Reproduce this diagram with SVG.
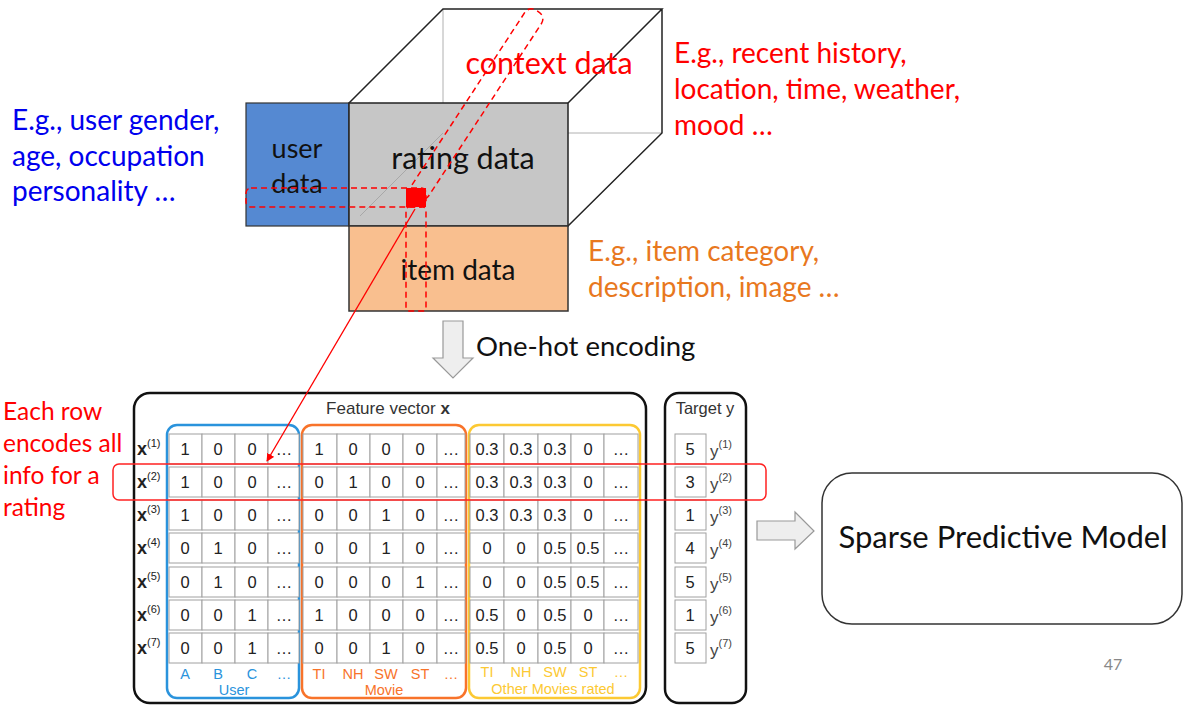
<svg xmlns="http://www.w3.org/2000/svg" width="1187" height="710" viewBox="0 0 1187 710">
<style>
.sl{font-family:Lato,"Open Sans","Liberation Sans",sans-serif}
.tb{font-family:"Liberation Sans",Arial,sans-serif}
.cell{fill:#fff;stroke:#a0a0a0;stroke-width:1}
.num{font-size:16.5px;fill:#222;text-anchor:middle;dominant-baseline:central}
.lbl{font-size:18px;font-weight:bold;fill:#222;dominant-baseline:central}
.sup{font-size:11px;font-weight:normal}
.dash{fill:none;stroke:#f00;stroke-width:1.5;stroke-dasharray:6 4}
</style>
<defs>
<marker id="ah" viewBox="0 0 10 10" refX="9" refY="5" markerWidth="8" markerHeight="8" orient="auto" markerUnits="userSpaceOnUse"><path d="M0,0 L10,5 L0,10 z" fill="#f00"/></marker>
</defs>
<rect width="1187" height="710" fill="#fff"/>

<g id="cube">
<line x1="443" y1="9" x2="443" y2="133" stroke="#b0b0b0" stroke-width="1"/>
<line x1="443" y1="133" x2="662" y2="133" stroke="#b0b0b0" stroke-width="1"/>
<path d="M349,103 L443,9 L662,9 L568,103 M662,9 L662,133 L568,226" fill="none" stroke="#222" stroke-width="1.5"/>
</g>
<g id="user-data">
<rect x="246" y="103" width="103" height="123" fill="#5589D2" stroke="#333" stroke-width="1.2"/>
<text class="sl" x="297" y="158" font-size="27" text-anchor="middle" fill="#111">user</text>
<text class="sl" x="297" y="193" font-size="27" text-anchor="middle" fill="#111">data</text>
</g>
<g id="rating-data">
<rect x="349" y="103" width="219" height="123" fill="#C6C6C6" stroke="#222" stroke-width="1.5"/>
<line x1="443" y1="133" x2="360" y2="216" stroke="#a8a8a8" stroke-width="1"/>
<text class="sl" x="463" y="169" font-size="30.5" text-anchor="middle" fill="#111">rating data</text>
</g>
<g id="item-data">
<rect x="349" y="226" width="219" height="85" fill="#F9BF8F" stroke="#333" stroke-width="1.5"/>
<text class="sl" x="458" y="280" font-size="28" text-anchor="middle" fill="#111">item data</text>
</g>
<g id="context-data">
<text class="sl" x="549" y="74" font-size="30.5" text-anchor="middle" fill="#f00">context data</text>
</g>
<g id="selection">
<rect class="dash" x="246" y="188" width="180" height="19" rx="5"/>
<rect class="dash" x="406" y="207" width="20" height="104" rx="3"/>
<rect class="dash" x="0" y="-10" width="222" height="20" rx="8" transform="translate(416,197) rotate(-56.8)"/>
<rect x="406" y="188" width="20" height="19" fill="#f00"/>
</g>

<g id="notes" class="sl" font-size="28">
<text x="674" y="63" fill="#f00">E.g., recent history,</text>
<text x="674" y="99" fill="#f00">location, time, weather,</text>
<text x="674" y="135" fill="#f00">mood …</text>
<text x="12" y="130" fill="#0000EE">E.g., user gender,</text>
<text x="12" y="166" fill="#0000EE">age, occupation</text>
<text x="12" y="201" fill="#0000EE">personality …</text>
<text x="588" y="261" fill="#E8781E">E.g., item category,</text>
<text x="588" y="297" fill="#E8781E">description, image …</text>
<text x="476" y="356" font-size="27.5" fill="#111">One-hot encoding</text>
<text x="3" y="420" font-size="24.5" fill="#f00">Each row</text>
<text x="3" y="452" font-size="24.5" fill="#f00">encodes all</text>
<text x="3" y="484" font-size="24.5" fill="#f00">info for a</text>
<text x="3" y="516" font-size="24.5" fill="#f00">rating</text>
</g>

<g id="encode-arrow">
<path d="M443,321 L463,321 L463,358 L473,358 L453,378 L433,358 L443,358 Z" fill="#EEEEEE" stroke="#999" stroke-width="1.2"/>
</g>

<g id="feature-vector" class="tb">
<rect x="134" y="393" width="512" height="310" rx="16" fill="none" stroke="#111" stroke-width="2.5"/>
<text x="388" y="414" font-size="17" text-anchor="middle" fill="#333">Feature vector <tspan font-weight="bold">x</tspan></text>
<rect x="167" y="425" width="132" height="273" rx="10" fill="none" stroke="#2A93DC" stroke-width="2.5"/>
<rect x="302" y="425" width="164" height="273" rx="10" fill="none" stroke="#F8732A" stroke-width="2.5"/>
<rect x="469" y="425" width="171" height="273" rx="10" fill="none" stroke="#FCC933" stroke-width="2.5"/>
</g>

<g id="rows" class="tb">
<g id="row1" transform="translate(0,449)">
<text class="lbl" x="137" y="0">x<tspan class="sup" dy="-6">(1)</tspan></text>
<rect class="cell" x="169" y="-15" width="33" height="30"/><rect class="cell" x="202" y="-15" width="33" height="30"/><rect class="cell" x="235" y="-15" width="33" height="30"/><rect class="cell" x="268" y="-15" width="31" height="30"/>
<rect class="cell" x="303" y="-15" width="34" height="30"/><rect class="cell" x="337" y="-15" width="33" height="30"/><rect class="cell" x="370" y="-15" width="33" height="30"/><rect class="cell" x="403" y="-15" width="34" height="30"/><rect class="cell" x="437" y="-15" width="28" height="30"/>
<rect class="cell" x="470" y="-15" width="34" height="30"/><rect class="cell" x="504" y="-15" width="34" height="30"/><rect class="cell" x="538" y="-15" width="33" height="30"/><rect class="cell" x="571" y="-15" width="33" height="30"/><rect class="cell" x="604" y="-15" width="34" height="30"/>
<text class="num" x="185">1</text><text class="num" x="218">0</text><text class="num" x="252">0</text><text class="num" x="284">…</text>
<text class="num" x="319">1</text><text class="num" x="353">0</text><text class="num" x="386">0</text><text class="num" x="420">0</text><text class="num" x="451">…</text>
<text class="num" x="487">0.3</text><text class="num" x="521">0.3</text><text class="num" x="555">0.3</text><text class="num" x="588">0</text><text class="num" x="621">…</text>
</g>
<g id="row2" transform="translate(0,482)">
<text class="lbl" x="137" y="0">x<tspan class="sup" dy="-6">(2)</tspan></text>
<rect class="cell" x="169" y="-15" width="33" height="30"/><rect class="cell" x="202" y="-15" width="33" height="30"/><rect class="cell" x="235" y="-15" width="33" height="30"/><rect class="cell" x="268" y="-15" width="31" height="30"/>
<rect class="cell" x="303" y="-15" width="34" height="30"/><rect class="cell" x="337" y="-15" width="33" height="30"/><rect class="cell" x="370" y="-15" width="33" height="30"/><rect class="cell" x="403" y="-15" width="34" height="30"/><rect class="cell" x="437" y="-15" width="28" height="30"/>
<rect class="cell" x="470" y="-15" width="34" height="30"/><rect class="cell" x="504" y="-15" width="34" height="30"/><rect class="cell" x="538" y="-15" width="33" height="30"/><rect class="cell" x="571" y="-15" width="33" height="30"/><rect class="cell" x="604" y="-15" width="34" height="30"/>
<text class="num" x="185">1</text><text class="num" x="218">0</text><text class="num" x="252">0</text><text class="num" x="284">…</text>
<text class="num" x="319">0</text><text class="num" x="353">1</text><text class="num" x="386">0</text><text class="num" x="420">0</text><text class="num" x="451">…</text>
<text class="num" x="487">0.3</text><text class="num" x="521">0.3</text><text class="num" x="555">0.3</text><text class="num" x="588">0</text><text class="num" x="621">…</text>
</g>
<g id="row3" transform="translate(0,515)">
<text class="lbl" x="137" y="0">x<tspan class="sup" dy="-6">(3)</tspan></text>
<rect class="cell" x="169" y="-15" width="33" height="30"/><rect class="cell" x="202" y="-15" width="33" height="30"/><rect class="cell" x="235" y="-15" width="33" height="30"/><rect class="cell" x="268" y="-15" width="31" height="30"/>
<rect class="cell" x="303" y="-15" width="34" height="30"/><rect class="cell" x="337" y="-15" width="33" height="30"/><rect class="cell" x="370" y="-15" width="33" height="30"/><rect class="cell" x="403" y="-15" width="34" height="30"/><rect class="cell" x="437" y="-15" width="28" height="30"/>
<rect class="cell" x="470" y="-15" width="34" height="30"/><rect class="cell" x="504" y="-15" width="34" height="30"/><rect class="cell" x="538" y="-15" width="33" height="30"/><rect class="cell" x="571" y="-15" width="33" height="30"/><rect class="cell" x="604" y="-15" width="34" height="30"/>
<text class="num" x="185">1</text><text class="num" x="218">0</text><text class="num" x="252">0</text><text class="num" x="284">…</text>
<text class="num" x="319">0</text><text class="num" x="353">0</text><text class="num" x="386">1</text><text class="num" x="420">0</text><text class="num" x="451">…</text>
<text class="num" x="487">0.3</text><text class="num" x="521">0.3</text><text class="num" x="555">0.3</text><text class="num" x="588">0</text><text class="num" x="621">…</text>
</g>
<g id="row4" transform="translate(0,548)">
<text class="lbl" x="137" y="0">x<tspan class="sup" dy="-6">(4)</tspan></text>
<rect class="cell" x="169" y="-15" width="33" height="30"/><rect class="cell" x="202" y="-15" width="33" height="30"/><rect class="cell" x="235" y="-15" width="33" height="30"/><rect class="cell" x="268" y="-15" width="31" height="30"/>
<rect class="cell" x="303" y="-15" width="34" height="30"/><rect class="cell" x="337" y="-15" width="33" height="30"/><rect class="cell" x="370" y="-15" width="33" height="30"/><rect class="cell" x="403" y="-15" width="34" height="30"/><rect class="cell" x="437" y="-15" width="28" height="30"/>
<rect class="cell" x="470" y="-15" width="34" height="30"/><rect class="cell" x="504" y="-15" width="34" height="30"/><rect class="cell" x="538" y="-15" width="33" height="30"/><rect class="cell" x="571" y="-15" width="33" height="30"/><rect class="cell" x="604" y="-15" width="34" height="30"/>
<text class="num" x="185">0</text><text class="num" x="218">1</text><text class="num" x="252">0</text><text class="num" x="284">…</text>
<text class="num" x="319">0</text><text class="num" x="353">0</text><text class="num" x="386">1</text><text class="num" x="420">0</text><text class="num" x="451">…</text>
<text class="num" x="487">0</text><text class="num" x="521">0</text><text class="num" x="555">0.5</text><text class="num" x="588">0.5</text><text class="num" x="621">…</text>
</g>
<g id="row5" transform="translate(0,582)">
<text class="lbl" x="137" y="0">x<tspan class="sup" dy="-6">(5)</tspan></text>
<rect class="cell" x="169" y="-15" width="33" height="30"/><rect class="cell" x="202" y="-15" width="33" height="30"/><rect class="cell" x="235" y="-15" width="33" height="30"/><rect class="cell" x="268" y="-15" width="31" height="30"/>
<rect class="cell" x="303" y="-15" width="34" height="30"/><rect class="cell" x="337" y="-15" width="33" height="30"/><rect class="cell" x="370" y="-15" width="33" height="30"/><rect class="cell" x="403" y="-15" width="34" height="30"/><rect class="cell" x="437" y="-15" width="28" height="30"/>
<rect class="cell" x="470" y="-15" width="34" height="30"/><rect class="cell" x="504" y="-15" width="34" height="30"/><rect class="cell" x="538" y="-15" width="33" height="30"/><rect class="cell" x="571" y="-15" width="33" height="30"/><rect class="cell" x="604" y="-15" width="34" height="30"/>
<text class="num" x="185">0</text><text class="num" x="218">1</text><text class="num" x="252">0</text><text class="num" x="284">…</text>
<text class="num" x="319">0</text><text class="num" x="353">0</text><text class="num" x="386">0</text><text class="num" x="420">1</text><text class="num" x="451">…</text>
<text class="num" x="487">0</text><text class="num" x="521">0</text><text class="num" x="555">0.5</text><text class="num" x="588">0.5</text><text class="num" x="621">…</text>
</g>
<g id="row6" transform="translate(0,615)">
<text class="lbl" x="137" y="0">x<tspan class="sup" dy="-6">(6)</tspan></text>
<rect class="cell" x="169" y="-15" width="33" height="30"/><rect class="cell" x="202" y="-15" width="33" height="30"/><rect class="cell" x="235" y="-15" width="33" height="30"/><rect class="cell" x="268" y="-15" width="31" height="30"/>
<rect class="cell" x="303" y="-15" width="34" height="30"/><rect class="cell" x="337" y="-15" width="33" height="30"/><rect class="cell" x="370" y="-15" width="33" height="30"/><rect class="cell" x="403" y="-15" width="34" height="30"/><rect class="cell" x="437" y="-15" width="28" height="30"/>
<rect class="cell" x="470" y="-15" width="34" height="30"/><rect class="cell" x="504" y="-15" width="34" height="30"/><rect class="cell" x="538" y="-15" width="33" height="30"/><rect class="cell" x="571" y="-15" width="33" height="30"/><rect class="cell" x="604" y="-15" width="34" height="30"/>
<text class="num" x="185">0</text><text class="num" x="218">0</text><text class="num" x="252">1</text><text class="num" x="284">…</text>
<text class="num" x="319">1</text><text class="num" x="353">0</text><text class="num" x="386">0</text><text class="num" x="420">0</text><text class="num" x="451">…</text>
<text class="num" x="487">0.5</text><text class="num" x="521">0</text><text class="num" x="555">0.5</text><text class="num" x="588">0</text><text class="num" x="621">…</text>
</g>
<g id="row7" transform="translate(0,648)">
<text class="lbl" x="137" y="0">x<tspan class="sup" dy="-6">(7)</tspan></text>
<rect class="cell" x="169" y="-15" width="33" height="30"/><rect class="cell" x="202" y="-15" width="33" height="30"/><rect class="cell" x="235" y="-15" width="33" height="30"/><rect class="cell" x="268" y="-15" width="31" height="30"/>
<rect class="cell" x="303" y="-15" width="34" height="30"/><rect class="cell" x="337" y="-15" width="33" height="30"/><rect class="cell" x="370" y="-15" width="33" height="30"/><rect class="cell" x="403" y="-15" width="34" height="30"/><rect class="cell" x="437" y="-15" width="28" height="30"/>
<rect class="cell" x="470" y="-15" width="34" height="30"/><rect class="cell" x="504" y="-15" width="34" height="30"/><rect class="cell" x="538" y="-15" width="33" height="30"/><rect class="cell" x="571" y="-15" width="33" height="30"/><rect class="cell" x="604" y="-15" width="34" height="30"/>
<text class="num" x="185">0</text><text class="num" x="218">0</text><text class="num" x="252">1</text><text class="num" x="284">…</text>
<text class="num" x="319">0</text><text class="num" x="353">0</text><text class="num" x="386">1</text><text class="num" x="420">0</text><text class="num" x="451">…</text>
<text class="num" x="487">0.5</text><text class="num" x="521">0</text><text class="num" x="555">0.5</text><text class="num" x="588">0</text><text class="num" x="621">…</text>
</g>
</g>

<g id="column-labels" class="tb" font-size="14.5" text-anchor="middle">
<g fill="#2A93DC"><text x="185" y="679">A</text><text x="218" y="679">B</text><text x="252" y="679">C</text><text x="284" y="679">…</text><text x="234" y="695">User</text></g>
<g fill="#F8732A"><text x="319" y="679">TI</text><text x="353" y="679">NH</text><text x="386" y="679">SW</text><text x="420" y="679">ST</text><text x="451" y="679">…</text><text x="384" y="695">Movie</text></g>
<g fill="#FCC933"><text x="487" y="677">TI</text><text x="521" y="677">NH</text><text x="555" y="677">SW</text><text x="588" y="677">ST</text><text x="621" y="677">…</text><text x="553" y="694">Other Movies rated</text></g>
</g>

<g id="target" class="tb">
<rect x="665" y="393" width="81" height="310" rx="14" fill="none" stroke="#111" stroke-width="2.5"/>
<text x="705" y="414" font-size="16.5" text-anchor="middle" fill="#333">Target y</text>
<g fill="#fff" stroke="#a0a0a0" stroke-width="1">
<rect x="675" y="434" width="31" height="30"/><rect x="675" y="467" width="31" height="30"/><rect x="675" y="500" width="31" height="30"/><rect x="675" y="533" width="31" height="30"/><rect x="675" y="567" width="31" height="30"/><rect x="675" y="600" width="31" height="30"/><rect x="675" y="633" width="31" height="30"/>
</g>
<text class="num" x="690" y="449">5</text><text class="num" x="690" y="482">3</text><text class="num" x="690" y="515">1</text><text class="num" x="690" y="548">4</text><text class="num" x="690" y="582">5</text><text class="num" x="690" y="615">1</text><text class="num" x="690" y="648">5</text>
<g font-size="17" fill="#444" dominant-baseline="central">
<text x="710" y="451">y<tspan font-size="11" dy="-7">(1)</tspan></text>
<text x="710" y="484">y<tspan font-size="11" dy="-7">(2)</tspan></text>
<text x="710" y="517">y<tspan font-size="11" dy="-7">(3)</tspan></text>
<text x="710" y="550">y<tspan font-size="11" dy="-7">(4)</tspan></text>
<text x="710" y="584">y<tspan font-size="11" dy="-7">(5)</tspan></text>
<text x="710" y="617">y<tspan font-size="11" dy="-7">(6)</tspan></text>
<text x="710" y="650">y<tspan font-size="11" dy="-7">(7)</tspan></text>
</g>
</g>

<g id="highlight">
<rect x="113" y="464" width="653" height="36" rx="6" fill="none" stroke="#f22" stroke-width="1.5"/>
</g>

<g id="model">
<rect x="822" y="473" width="360" height="151" rx="30" fill="#fff" stroke="#333" stroke-width="1.5"/>
<text class="sl" x="1003" y="548" font-size="31" text-anchor="middle" fill="#111">Sparse Predictive Model</text>
</g>

<g id="connectors">
<line x1="415" y1="209" x2="267" y2="461" stroke="#f00" stroke-width="1.3" marker-end="url(#ah)"/>
<path d="M757,521 L795,521 L795,512 L814,531 L795,549 L795,540 L757,540 Z" fill="#EEEEEE" stroke="#999" stroke-width="1.2"/>
</g>

<text class="sl" x="1113" y="670" font-size="16" text-anchor="middle" fill="#888">47</text>
</svg>
